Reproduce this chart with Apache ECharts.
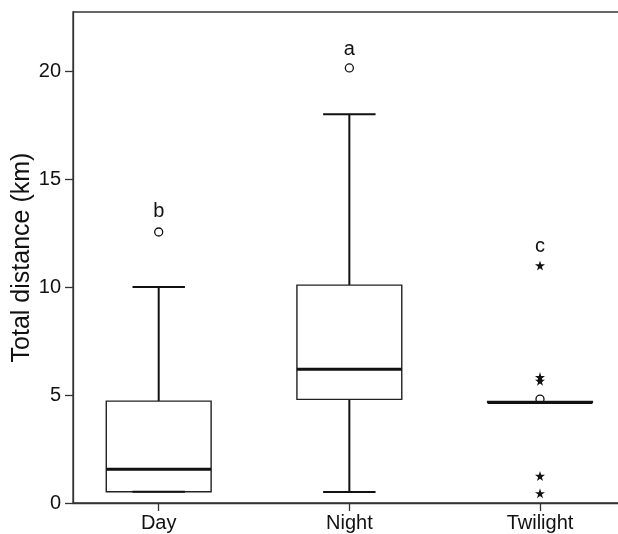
<!DOCTYPE html>
<html>
<head>
<meta charset="utf-8">
<script src="https://cdn.jsdelivr.net/npm/echarts@6/dist/echarts.min.js"></script>
<style>
  html, body { margin: 0; padding: 0; background: #fff; }
  #chart { width: 618px; height: 534px; }
</style>
</head>
<body>
<div id="chart"></div>
<script>
const categories = ['Day', 'Night', 'Twilight'];
const whiskerLow = [0.52, 0.51, 4.66];
const q1 = [0.52, 4.8, 4.66];
const median = [1.56, 6.2, 4.66];
const q3 = [4.72, 10.09, 4.7];
const whiskerHigh = [10.0, 18.0, 4.66];
const outlierCircles = [[1, 12.55], [2, 20.15], [3, 4.81]];
const outlierStars = [[3, 11.0], [3, 5.83], [3, 5.66], [3, 1.25], [3, 0.45]];
const groupLetters = ['b', 'a', 'c'];
const letterHeights = [13.5, 21.0, 11.87];
const yTicks = [0, 5, 10, 15, 20];

const FONT = "'Liberation Sans', Arial, sans-serif";
const INK = '#111';
const STAR = 'path://M50,0 L61,35 L98,35 L68,57 L79,91 L50,70 L21,91 L32,57 L2,35 L39,35 Z';

const chart = echarts.init(document.getElementById('chart'));

const boxData = categories.map((c, i) => [i + 1, whiskerLow[i], q1[i], median[i], q3[i], whiskerHigh[i]]);

function renderBox(params, api) {
  const x = api.value(0);
  const halfBox = 0.275, halfCap = 0.1375;
  const p = (xv, yv) => api.coord([xv, yv]);
  const lo = api.value(1), b1 = api.value(2), md = api.value(3), b3 = api.value(4), hi = api.value(5);
  const line = (a, b, w) => ({
    type: 'line',
    shape: { x1: a[0], y1: a[1], x2: b[0], y2: b[1] },
    style: { stroke: INK, lineWidth: w }
  });
  const tl = p(x - halfBox, b3), br = p(x + halfBox, b1);
  return {
    type: 'group',
    children: [
      line(p(x, b3), p(x, hi), 2),
      line(p(x, lo), p(x, b1), 2),
      {
        type: 'rect',
        shape: { x: tl[0], y: tl[1], width: br[0] - tl[0], height: br[1] - tl[1] },
        style: { fill: '#fff', stroke: '#222', lineWidth: 1.4 }
      },
      line(p(x - halfCap, hi), p(x + halfCap, hi), 2),
      line(p(x - halfCap, lo), p(x + halfCap, lo), 2),
      line(p(x - halfBox, md), p(x + halfBox, md), 3)
    ]
  };
}

const option = {
  animation: false,
  backgroundColor: '#fff',
  textStyle: { fontFamily: FONT },
  grid: {
    left: 73, right: -10, top: 12, bottom: 31,
    outerBoundsMode: 'none',
    containLabel: false,
    show: true, borderColor: '#333', borderWidth: 1.3, backgroundColor: 'transparent'
  },
  xAxis: {
    type: 'value',
    min: 0.5505,
    max: 3.4616,
    axisLine: { show: true, onZero: false, lineStyle: { color: '#333', width: 1.3 } },
    axisTick: { show: true, length: 8, customValues: [1, 2, 3], lineStyle: { color: '#333', width: 1.3 } },
    axisLabel: {
      customValues: [1, 2, 3],
      formatter: v => categories[Math.round(v) - 1],
      color: INK, fontSize: 20, fontFamily: FONT, margin: 10
    },
    splitLine: { show: false }
  },
  yAxis: {
    type: 'value',
    min: 0,
    max: 22.74,
    name: 'Total distance (km)',
    nameLocation: 'middle',
    nameGap: 38,
    nameMoveOverlap: false,
    nameTextStyle: { color: INK, fontSize: 25, fontFamily: FONT },
    axisLine: { show: true, lineStyle: { color: '#333', width: 1.3 } },
    axisTick: { show: true, length: 8, customValues: yTicks, lineStyle: { color: '#333', width: 1.3 } },
    axisLabel: { customValues: yTicks, color: INK, fontSize: 20, fontFamily: FONT, margin: 12 },
    splitLine: { show: false }
  },
  series: [
    {
      type: 'scatter',
      z: 2,
      symbol: 'circle',
      symbolSize: 8,
      itemStyle: { color: '#fff', borderColor: INK, borderWidth: 1.3, opacity: 1 },
      data: outlierCircles
    },
    {
      type: 'custom',
      z: 3,
      renderItem: renderBox,
      encode: { x: 0, y: [1, 2, 3, 4, 5] },
      data: boxData
    },
    {
      type: 'scatter',
      z: 4,
      symbol: STAR,
      symbolSize: 10,
      itemStyle: { color: INK, opacity: 1 },
      data: outlierStars
    },
    {
      type: 'scatter',
      z: 4,
      symbolSize: 0,
      itemStyle: { opacity: 1 },
      label: {
        show: true, position: 'inside', formatter: p => p.name,
        color: INK, fontSize: 20, fontFamily: FONT
      },
      data: groupLetters.map((t, i) => ({ name: t, value: [i + 1, letterHeights[i]] }))
    }
  ]
};

chart.setOption(option);
</script>
</body>
</html>
